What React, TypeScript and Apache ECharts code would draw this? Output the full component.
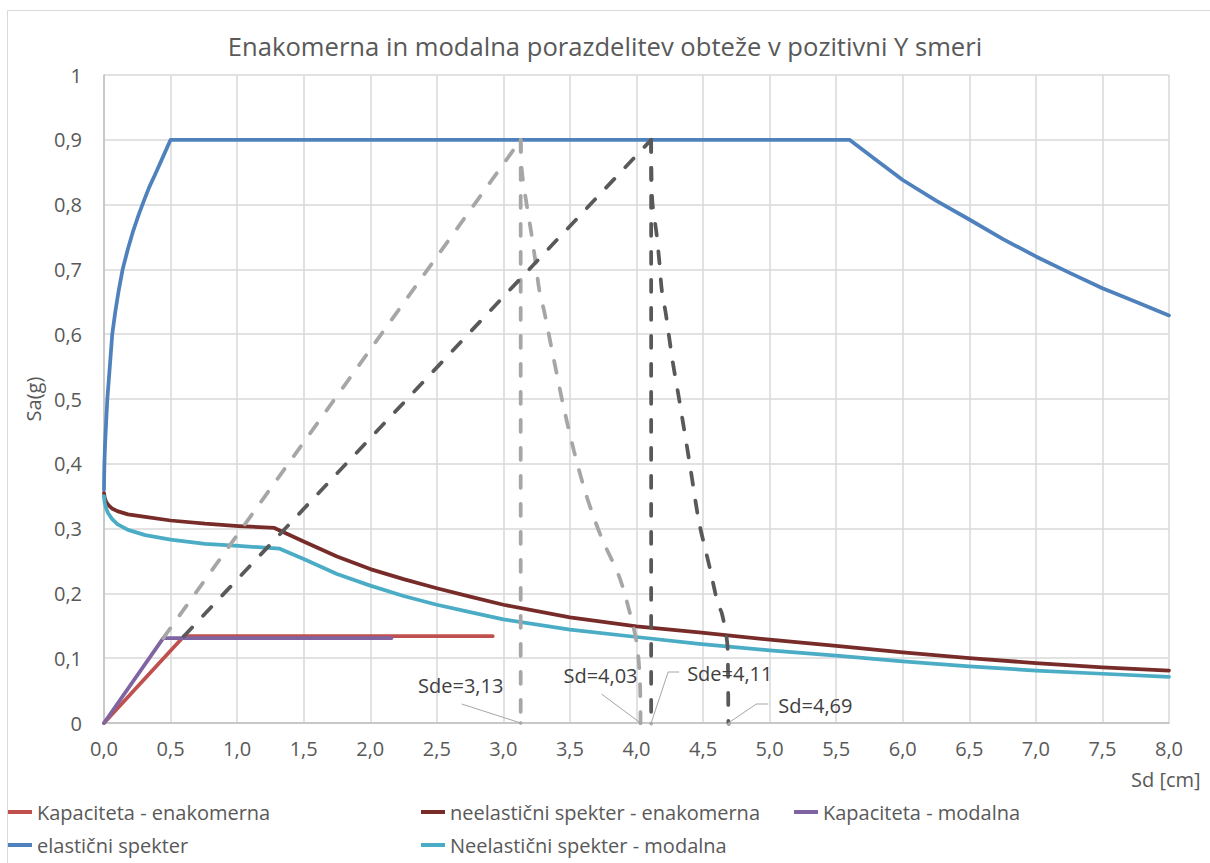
import React, { useEffect, useRef } from "react";
import * as echarts from "echarts";

const TITLE = "Enakomerna in modalna porazdelitev obteže v pozitivni Y smeri";
const X_NAME = "Sd [cm]";
const Y_NAME = "Sa(g)";

// Kapaciteta - enakomerna
const kapEnakSd = [0, 0.6, 2.92];
const kapEnakSa = [0, 0.134, 0.134];

// neelastični spekter - enakomerna
const neelEnakSd = [0, 0.005, 0.015, 0.03, 0.06, 0.1, 0.18, 0.31, 0.5, 0.76, 1.01, 1.28, 1.5, 1.75, 2.0, 2.25, 2.5, 2.75, 3.0, 3.5, 4.0, 4.47, 5.0, 5.5, 6.0, 6.5, 7.0, 7.5, 8.0];
const neelEnakSa = [0.355, 0.348, 0.342, 0.337, 0.331, 0.327, 0.322, 0.318, 0.3125, 0.3075, 0.304, 0.301, 0.28, 0.257, 0.2375, 0.222, 0.208, 0.195, 0.1825, 0.163, 0.149, 0.1398, 0.1285, 0.119, 0.109, 0.1, 0.0925, 0.0858, 0.081];

// Kapaciteta - modalna
const kapModSd = [0, 0.445, 2.16];
const kapModSa = [0, 0.131, 0.131];

// elastični spekter
const elSd = [0, 0.001, 0.003, 0.008, 0.015, 0.025, 0.04, 0.062, 0.085, 0.11, 0.14, 0.18, 0.22, 0.26, 0.3, 0.34, 0.383, 0.433, 0.5, 5.6, 5.8, 6.0, 6.25, 6.5, 6.75, 7.0, 7.25, 7.5, 7.75, 8.0];
const elSa = [0.36, 0.38, 0.4, 0.43, 0.46, 0.5, 0.54, 0.6, 0.635, 0.667, 0.7, 0.732, 0.76, 0.784, 0.806, 0.827, 0.846, 0.869, 0.9, 0.9, 0.869, 0.838, 0.806, 0.777, 0.747, 0.72, 0.695, 0.671, 0.65, 0.629];

// Neelastični spekter - modalna
const neelModSd = [0, 0.005, 0.015, 0.03, 0.06, 0.1, 0.18, 0.31, 0.5, 0.76, 1.01, 1.32, 1.5, 1.75, 2.0, 2.25, 2.5, 2.75, 3.0, 3.5, 4.0, 4.47, 5.0, 5.5, 6.0, 6.5, 7.0, 7.5, 8.0];
const neelModSa = [0.35, 0.34, 0.332, 0.324, 0.315, 0.307, 0.298, 0.29, 0.283, 0.2765, 0.2735, 0.269, 0.253, 0.23, 0.212, 0.196, 0.1825, 0.171, 0.16, 0.144, 0.1327, 0.122, 0.112, 0.104, 0.095, 0.0873, 0.081, 0.076, 0.071];

// light gray construction lines (modalna)
const lgDiagSd = [0.445, 3.13];
const lgDiagSa = [0.131, 0.9];
const lgVertSd = [3.13, 3.13];
const lgVertSa = [0.9, 0];
const lgCurveSd = [3.13, 3.14, 3.175, 3.21, 3.243, 3.27, 3.31, 3.38, 3.45, 3.53, 3.61, 3.685, 3.75, 3.87, 3.95, 4.0, 4.025, 4.03];
const lgCurveSa = [0.9, 0.85, 0.8, 0.756, 0.709, 0.668, 0.632, 0.56, 0.49, 0.42, 0.36, 0.314, 0.28, 0.226, 0.17, 0.125, 0.07, 0];

// dark gray construction lines (enakomerna)
const dgDiagSd = [0.6, 4.11];
const dgDiagSa = [0.134, 0.9];
const dgVertSd = [4.11, 4.11];
const dgVertSa = [0.9, 0];
const dgCurveSd = [4.11, 4.112, 4.12, 4.15, 4.173, 4.19, 4.22, 4.27, 4.32, 4.4, 4.47, 4.55, 4.61, 4.64, 4.675, 4.685, 4.69];
const dgCurveSa = [0.9, 0.853, 0.802, 0.756, 0.709, 0.668, 0.632, 0.56, 0.5, 0.4, 0.31, 0.24, 0.185, 0.17, 0.134, 0.113, 0];

// annotations
const annotationSd = [3.13, 4.03, 4.11, 4.69];
const annotationTexts = ["Sde=3,13", "Sd=4,03", "Sde=4,11", "Sd=4,69"];

const LEGEND_1 = ["Kapaciteta - enakomerna", "elastični spekter"];
const LEGEND_2 = ["neelastični spekter - enakomerna", "Neelastični spekter - modalna"];
const LEGEND_3 = ["Kapaciteta - modalna"];

const FONT = '"Open Sans", "Noto Sans", sans-serif';

const pairs = (xs: number[], ys: number[]) => xs.map((x, i) => [x, ys[i]]);

const solid = (name: string, xs: number[], ys: number[], color: string) => ({
  name,
  type: "line",
  data: pairs(xs, ys),
  showSymbol: false,
  symbol: "none",
  smooth: false,
  color,
  lineStyle: { color, width: 3.75, cap: "round", join: "round" },
  emphasis: { disabled: true },
});

const dashed = (name: string, xs: number[], ys: number[], color: string, smooth = false) => ({
  name,
  type: "line",
  data: pairs(xs, ys),
  showSymbol: false,
  symbol: "none",
  smooth: smooth ? 0.3 : false,
  color,
  lineStyle: { color, width: 3.75, type: [12, 16], cap: "round" },
  emphasis: { disabled: true },
});

const fmtX = (v: number) => v.toFixed(1).replace(".", ",");
const fmtY = (v: number) => (v === 0 ? "0" : Math.abs(v - 1) < 1e-9 ? "1" : v.toFixed(1).replace(".", ","));

const labelOffsets = [
  { leader: [[0, 0], [-59, -19]], tx: -60, ty: -38, align: "center" },
  { leader: [[0, 0], [-39, -29]], tx: -40, ty: -48, align: "center" },
  { leader: [[0, 0], [17, -51], [28, -51]], tx: 36, ty: -50, align: "left" },
  { leader: [[0, 0], [28, -19], [40, -19]], tx: 50, ty: -18, align: "left" },
];

export default function App() {
  const ref = useRef<HTMLDivElement>(null);
  useEffect(() => {
    if (!ref.current) return;
    const chart = echarts.init(ref.current, null, { renderer: "svg" });
    const legendBase = {
      orient: "vertical",
      top: 802,
      padding: 0,
      itemWidth: 24,
      itemHeight: 4,
      itemGap: 13,
      icon: "rect",
      selectedMode: false,
      textStyle: { fontFamily: FONT, fontSize: 20, color: "#595959", lineHeight: 20 },
    };
    const option: any = {
      animation: false,
      backgroundColor: "#ffffff",
      title: {
        text: TITLE,
        left: "center",
        top: 28,
        textStyle: { fontFamily: FONT, fontSize: 25.6, fontWeight: "normal", color: "#595959" },
      },
      grid: { left: 104, right: 41, top: 75, bottom: 140, containLabel: false, outerBoundsMode: "none" },
      legend: [
        { ...legendBase, left: 8, data: LEGEND_1 },
        { ...legendBase, left: 421, data: LEGEND_2 },
        { ...legendBase, left: 794, data: LEGEND_3 },
      ],
      xAxis: {
        type: "value",
        min: 0,
        max: 8,
        interval: 0.5,
        name: X_NAME,
        nameLocation: "end",
        nameGap: -38,
        nameMoveOverlap: false,
        nameTextStyle: {
          fontFamily: FONT,
          fontSize: 20,
          color: "#595959",
          verticalAlign: "top",
          padding: [46, 0, 0, 0],
        },
        axisLine: { show: true, lineStyle: { color: "#BFBFBF", width: 1.5 } },
        axisTick: { show: false },
        axisLabel: { formatter: fmtX, fontFamily: FONT, fontSize: 20, color: "#595959", margin: 15 },
        splitLine: { show: true, lineStyle: { color: "#D9D9D9", width: 1.5 } },
      },
      yAxis: {
        type: "value",
        min: 0,
        max: 1,
        interval: 0.1,
        name: Y_NAME,
        nameLocation: "middle",
        nameGap: 55,
        nameRotate: 90,
        nameTextStyle: { fontFamily: FONT, fontSize: 20, color: "#595959" },
        axisLine: { show: true, lineStyle: { color: "#BFBFBF", width: 1.5 } },
        axisTick: { show: false },
        axisLabel: { formatter: fmtY, fontFamily: FONT, fontSize: 20, color: "#595959", margin: 22 },
        splitLine: { show: true, lineStyle: { color: "#D9D9D9", width: 1.5 } },
      },
      series: [
        solid("Kapaciteta - enakomerna", kapEnakSd, kapEnakSa, "#C0504D"),
        solid("neelastični spekter - enakomerna", neelEnakSd, neelEnakSa, "#772C2A"),
        solid("Kapaciteta - modalna", kapModSd, kapModSa, "#8064A2"),
        solid("elastični spekter", elSd, elSa, "#4F81BD"),
        solid("Neelastični spekter - modalna", neelModSd, neelModSa, "#4BACC6"),
        dashed("lg-diag", lgDiagSd, lgDiagSa, "#A6A6A6"),
        dashed("lg-vert", lgVertSd, lgVertSa, "#A6A6A6"),
        dashed("lg-curve", lgCurveSd, lgCurveSa, "#A6A6A6", true),
        dashed("dg-diag", dgDiagSd, dgDiagSa, "#595959"),
        dashed("dg-vert", dgVertSd, dgVertSa, "#595959"),
        dashed("dg-curve", dgCurveSd, dgCurveSa, "#595959", true),
      ],
    };
    chart.setOption(option);

    const g: any[] = [
      {
        type: "rect",
        silent: true,
        z: -10,
        shape: { x: 7.5, y: 10.5, width: 1220, height: 900 },
        style: { fill: "none", stroke: "#D9D9D9", lineWidth: 1 },
      },
    ];
    annotationSd.forEach((sd, i) => {
      const p = chart.convertToPixel({ gridIndex: 0 } as any, [sd, 0]) as number[];
      const px = p[0];
      const py = p[1];
      const o = labelOffsets[i];
      g.push({
        type: "polyline",
        silent: true,
        z: 100,
        shape: { points: o.leader.map(([dx, dy]) => [px + dx, py + dy]) },
        style: { fill: "none", stroke: "#A6A6A6", lineWidth: 1 },
      });
      g.push({
        type: "circle",
        silent: true,
        z: 100,
        shape: { cx: px, cy: py, r: 1.8 },
        style: { fill: "#A6A6A6" },
      });
      g.push({
        type: "text",
        silent: true,
        z: 100,
        x: px + o.tx,
        y: py + o.ty,
        style: {
          text: annotationTexts[i],
          fill: "#404040",
          font: `20px ${FONT}`,
          align: o.align,
          textAlign: o.align,
          verticalAlign: "middle",
          textVerticalAlign: "middle",
        },
      });
    });
    chart.setOption({ graphic: g });

    return () => chart.dispose();
  }, []);

  return (
    <div
      ref={ref}
      style={{ position: "fixed", left: 0, top: 0, width: 1210, height: 863, background: "#fff" }}
    />
  );
}
